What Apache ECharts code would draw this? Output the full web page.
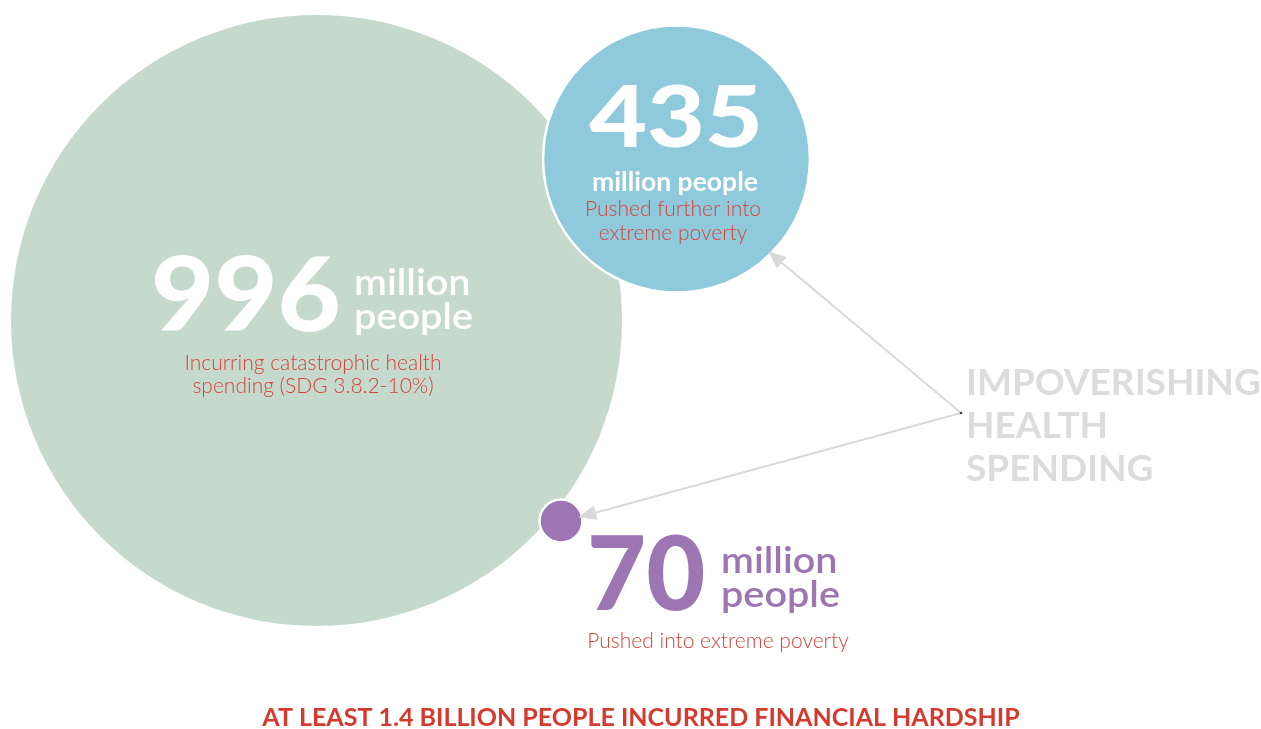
<!DOCTYPE html>
<html>
<head>
<meta charset="utf-8">
<script src="https://cdn.jsdelivr.net/npm/echarts@6/dist/echarts.min.js"></script>
<style>
html,body{margin:0;padding:0;background:#fff;}
#chart{width:1261px;height:729px;}
</style>
</head>
<body>
<div id="chart"></div>
<script>
// ---- data ----
const categories = ['Catastrophic health spending', 'Pushed further into extreme poverty', 'Pushed into extreme poverty'];
const values = [996, 435, 70];
const unitText = ['million people', 'million people', 'million people'];
const descriptions = [
  ['Incurring catastrophic health', 'spending (SDG 3.8.2-10%)'],
  ['Pushed further into', 'extreme poverty'],
  ['Pushed into extreme poverty']
];
const annotationLines = ['IMPOVERISHING', 'HEALTH', 'SPENDING'];
const titleText = 'AT LEAST 1.4 BILLION PEOPLE INCURRED FINANCIAL HARDSHIP';

// ---- layout / style ----
const W = 1261, H = 729;
const centers = [[316.5, 320.5], [676.5, 159], [561, 521]];
const colors = ['#c5dacd', '#8ecadb', '#9e75b3'];
const borders = [0, 2.5, 2.5];
const pxPerUnit = 611 / 996; // bubble diameter proportional to value
const red = '#d9433a';
const grey = '#dcdcdc';
const F = 'Lato, "Open Sans", sans-serif';

const chart = echarts.init(document.getElementById('chart'), null, {renderer: 'canvas'});

const scatterData = values.map((v, i) => ({
  name: categories[i],
  value: [centers[i][0], centers[i][1], v],
  itemStyle: {color: colors[i], borderColor: '#fff', borderWidth: borders[i], opacity: 1}
}));

function txt(text, x, y, font, fill, align, sx) {
  return {type: 'text', silent: true, z: 100, x: x, y: y, scaleX: sx || 1,
    style: {text: text, x: 0, y: 0, font: font, fill: fill, align: align || 'left', verticalAlign: 'middle'}};
}

const unitParts = unitText.map(s => s.split(' '));
const graphics = [
  // 996 bubble
  txt(String(values[0]), 151, 298, '900 102px ' + F, '#fff', 'left', 1.07),
  txt(unitParts[0][0], 354, 283, '600 36px ' + F, '#fff', 'left', 1.1),
  txt(unitParts[0][1], 354, 317, '600 36px ' + F, '#fff', 'left', 1.1),
  txt(descriptions[0][0], 313, 363, '300 21px ' + F, red, 'center'),
  txt(descriptions[0][1], 313, 386, '300 21px ' + F, red, 'center'),
  // 435 bubble
  txt(String(values[1]), 676, 119, '900 86px ' + F, '#fff', 'center', 1.16),
  txt(unitText[1], 675, 183, 'bold 26px ' + F, '#fff', 'center', 1.02),
  txt(descriptions[1][0], 673, 209, '300 21px ' + F, red, 'center'),
  txt(descriptions[1][1], 673, 233, '300 21px ' + F, red, 'center'),
  // 70 bubble
  txt(String(values[2]), 587, 577, '900 102px ' + F, colors[2], 'left'),
  txt(unitParts[2][0], 721, 561, '600 36px ' + F, colors[2], 'left', 1.1),
  txt(unitParts[2][1], 721, 595, '600 36px ' + F, colors[2], 'left', 1.1),
  txt(descriptions[2][0], 718, 641, '300 21px ' + F, red, 'center'),
  // annotation
  txt(annotationLines[0], 966, 383, 'bold 37px ' + F, grey, 'left'),
  txt(annotationLines[1], 966, 426, 'bold 37px ' + F, grey, 'left'),
  txt(annotationLines[2], 966, 469, 'bold 37px ' + F, grey, 'left'),
  // title
  txt(titleText, 641, 718, 'bold 25px ' + F, '#d63a2e', 'center'),
  // dark origin dot
  {type: 'circle', silent: true, z: 100, shape: {cx: 961, cy: 413, r: 1.3}, style: {fill: '#444'}}
];

const option = {
  animation: false,
  backgroundColor: '#fff',
  grid: {left: 0, right: 0, top: 0, bottom: 0, containLabel: false},
  xAxis: {type: 'value', min: 0, max: W, show: false},
  yAxis: {type: 'value', min: 0, max: H, inverse: true, show: false},
  series: [{
    type: 'scatter',
    symbol: 'circle',
    data: scatterData,
    symbolSize: d => d[2] * pxPerUnit,
    emphasis: {disabled: true},
    silent: true,
    z: 2,
    markLine: {
      silent: true,
      symbol: ['none', 'triangle'],
      symbolSize: [15, 18],
      symbolOffset: 0,
      lineStyle: {color: '#d9d9d9', width: 2, type: 'solid', opacity: 1},
      itemStyle: {color: '#d9d9d9'},
      label: {show: false},
      emphasis: {disabled: true},
      data: [
        [{coord: [961, 413]}, {coord: [775, 257]}],
        [{coord: [961, 413]}, {coord: [587, 515]}]
      ]
    }
  }],
  graphic: graphics
};
chart.setOption(option);
</script>
</body>
</html>
